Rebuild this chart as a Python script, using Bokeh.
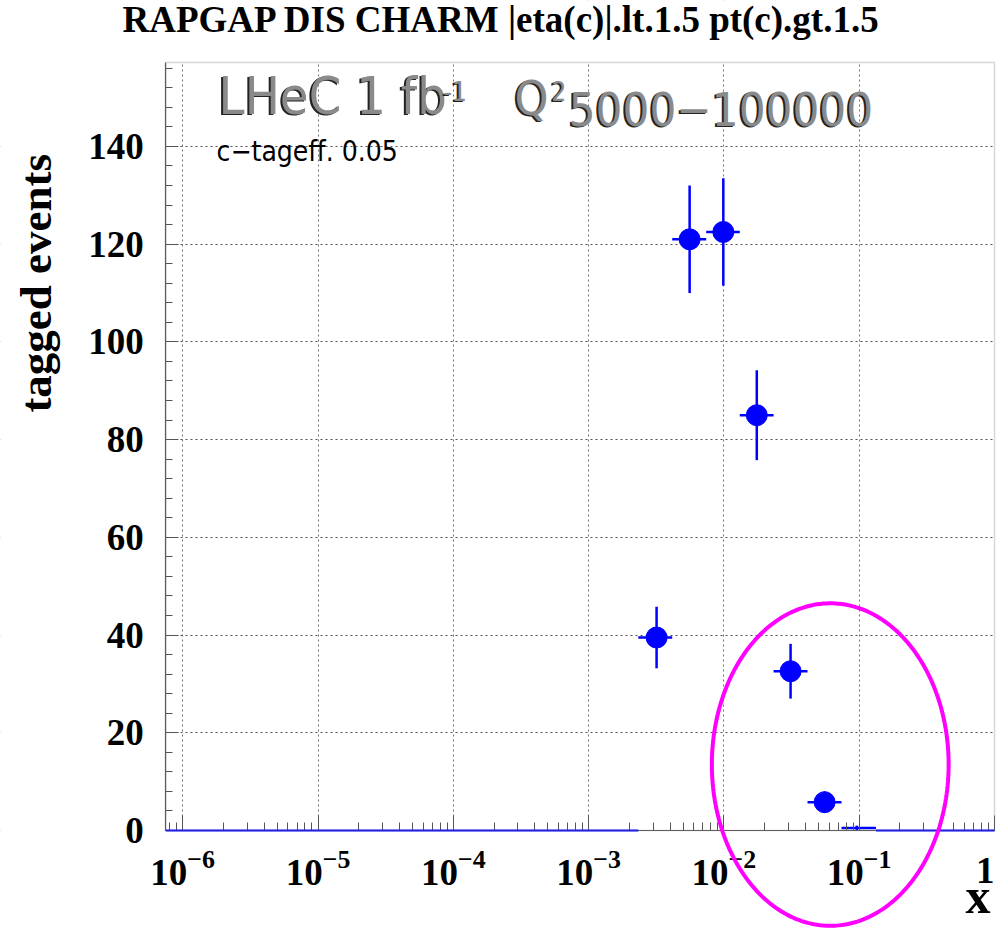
import numpy as np
from bokeh.plotting import figure
from bokeh.models import (Range1d, SingleIntervalTicker, LogTicker, Label,
                          PolyAnnotation, BoxAnnotation)
from bokeh.embed import file_html
from bokeh.resources import INLINE

# ---- data ----
bin_lo = [2.33e-3, 4.15e-3, 7.4e-3, 1.31e-2, 2.33e-2, 4.15e-2, 7.4e-2]
bin_hi = [4.15e-3, 7.4e-3, 1.31e-2, 2.33e-2, 4.15e-2, 7.4e-2, 0.133]
x_center = [3.18e-3, 5.58e-3, 9.9e-3, 1.75e-2, 3.11e-2, 5.55e-2, 9.6e-2]
counts = [39.5, 121.0, 122.5, 85.0, 32.6, 5.8, 0.5]
errors = [6.3, 11.0, 11.0, 9.2, 5.6, 2.2, 0.5]
marker_shown = [True, True, True, True, True, True, False]
empty_lo = [7.5e-7, 0.133]
empty_hi = [2.33e-3, 1.0]

# plot box (data coordinates)
X0, X1 = 7.5e-7, 1.0
Y0, Y1 = 0.0, 157.2

SERIF = "Liberation Serif"
NARROW = "'Liberation Sans Narrow', 'DejaVu Sans Condensed', 'Liberation Sans', sans-serif"
BLUE = "#0000ff"

p = figure(width=996, height=936, x_axis_type="log", title=None,
           x_range=Range1d(4.50e-8, 1.0346), y_range=Range1d(-21.69, 169.87),
           output_backend="svg", toolbar_location=None,
           min_border_left=0, min_border_right=0,
           min_border_top=0, min_border_bottom=0)
p.background_fill_color = "white"
p.border_fill_color = "white"
p.outline_line_color = None

# axes drawn at the edges of the plot box
xa, ya = p.xaxis[0], p.yaxis[0]
xa.fixed_location = Y0
ya.fixed_location = X0
xa.bounds = (X0, X1)
ya.bounds = (Y0, Y1)
for ax in (xa, ya):
    ax.major_label_text_font = SERIF
    ax.major_label_text_font_style = "bold"
    ax.major_label_text_font_size = "37px"
    ax.major_label_text_color = "black"
    ax.axis_line_color = "#555555"
    ax.axis_line_width = 1.2
    ax.major_tick_line_color = "#555555"
    ax.minor_tick_line_color = "#555555"
    ax.major_tick_out = 0
    ax.minor_tick_out = 0

xa.ticker = LogTicker(num_minor_ticks=10)
xa.major_tick_in = 15
xa.minor_tick_in = 8
xa.major_label_standoff = 19
xa.major_label_overrides = {1: ""}

ya.ticker = SingleIntervalTicker(interval=20, num_minor_ticks=5)
ya.major_tick_in = 13
ya.minor_tick_in = 7
ya.major_label_standoff = 22

p.xgrid.bounds = (X0, 0.5)
p.ygrid.bounds = (Y0, 150)
p.xgrid.grid_line_color = "#707070"
p.xgrid.grid_line_dash = "2 3"
p.ygrid.grid_line_color = "#505050"
p.ygrid.grid_line_dash = "2 3"

# white masks so the grid stays inside the plot box
for kw in (dict(top=Y0), dict(bottom=Y1), dict(right=X0), dict(left=X1)):
    p.add_layout(BoxAnnotation(fill_color="white", fill_alpha=1.0, line_color=None,
                               level="underlay", **kw))

# plot box outline
p.add_layout(BoxAnnotation(left=X0, right=X1, bottom=Y0, top=Y1, fill_alpha=0,
                           line_color="#777777", line_width=1.5))

# empty bins drawn at zero
p.segment(x0=empty_lo, y0=[0] * len(empty_lo), x1=empty_hi, y1=[0] * len(empty_hi),
          line_color=BLUE, line_width=2, level="annotation")

# error bars
ylow = [c - e for c, e in zip(counts, errors)]
yhigh = [c + e for c, e in zip(counts, errors)]
p.segment(x0=bin_lo, y0=counts, x1=bin_hi, y1=counts, line_color=BLUE, line_width=2.5)
p.segment(x0=x_center, y0=ylow, x1=x_center, y1=yhigh, line_color=BLUE, line_width=2.5)

mx = [x for x, s in zip(x_center, marker_shown) if s]
my = [c for c, s in zip(counts, marker_shown) if s]
p.scatter(mx, my, size=21, marker="circle", fill_color=BLUE, line_color=BLUE)

# magenta ellipse annotation (log-x space)
ell_cx, ell_cy = -1.214, 13.5   # log10(x) centre, y centre
ell_ax, ell_ay = 0.875, 33.0    # half width in decades, half height
t = np.linspace(0, 2 * np.pi, 240)
p.add_layout(PolyAnnotation(xs=list(10 ** (ell_cx + ell_ax * np.cos(t))),
                            ys=list(ell_cy + ell_ay * np.sin(t)),
                            fill_alpha=0, line_color="#ff00ff", line_alpha=1.0,
                            line_width=4))

# tick label at x = 1
p.add_layout(Label(x=1.0, y=-8.19, text="1", text_font=SERIF,
                   text_font_style="bold", text_font_size="37px", text_align="right",
                   text_baseline="alphabetic", text_color="black"))

# text annotations
def shadow_label(x, y, text, size, font=NARROW):
    p.add_layout(Label(x=x, y=y, text=text, text_font=font, text_font_size=size,
                       text_color="#222222"))
    p.add_layout(Label(x=x, y=y, x_offset=2, y_offset=1, text=text, text_font=font,
                       text_font_size=size, text_color="#8a8a8a"))

shadow_label(1.78e-6, 144.0, "LHeC  1 fb", "52px")
shadow_label(8.18e-5, 149.0, "-1", "26px")
shadow_label(2.74e-4, 144.0, "Q", "48px")
shadow_label(5.14e-4, 149.0, "2", "26px")
shadow_label(6.89e-4, 144.0, "5000\u2212100000", "47px")

p.add_layout(Label(x=1.78e-6, y=135.5, text="c\u2212tageff. 0.05", text_font=NARROW,
                   text_font_size="28px", text_color="black"))

# title
p.add_layout(Label(x=3.59e-7, y=166.0, text="RAPGAP DIS  CHARM |eta(c)|.lt.1.5   pt(c).gt.1.5",
                   text_font=SERIF, text_font_style="bold", text_font_size="37px",
                   text_align="left", text_baseline="alphabetic", text_color="black"))

# axis titles
p.add_layout(Label(x=8.17e-8, y=112.0, text="tagged events", angle=np.pi / 2,
                   text_font=SERIF, text_font_style="bold", text_font_size="45px",
                   text_align="center", text_baseline="middle", text_color="black"))
p.add_layout(Label(x=0.934, y=-13.5, text="x", text_font=SERIF, text_font_style="bold",
                   text_font_size="50px", text_align="right", text_baseline="alphabetic",
                   text_color="black"))

open("out.html", "w").write(file_html(p, INLINE))
